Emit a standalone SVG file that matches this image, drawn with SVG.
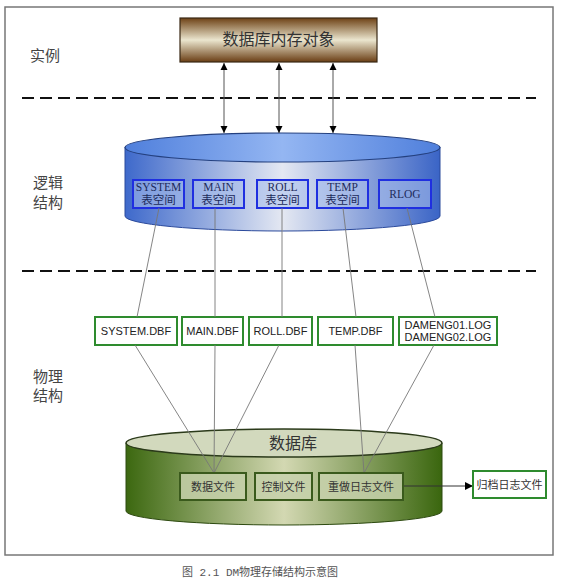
<svg xmlns="http://www.w3.org/2000/svg" width="561" height="584" viewBox="0 0 561 584">
<style>
.cjk{font-family:"Noto Sans CJK SC",sans-serif;fill:#333}
.lbl{font-family:"Noto Sans CJK SC",sans-serif;font-size:15px;fill:#444}
.ts{font-family:"Liberation Serif","Noto Sans CJK SC",serif;font-size:11.5px;fill:#1d2b5c;text-anchor:middle}
.tsb{fill:#a9c0ec;fill-opacity:0.55;stroke:#1f2fe0;stroke-width:2}
.fb{fill:#fff;stroke:#2e8b2e;stroke-width:2}
.ft{font-family:"Liberation Sans",sans-serif;font-size:11px;fill:#222;text-anchor:middle}
.gb{fill:#c7d1ab;fill-opacity:0.85;stroke:#3a5a1c;stroke-width:2}
.gt{font-family:"Noto Sans CJK SC",sans-serif;font-size:11px;fill:#333;text-anchor:middle}
.dash{stroke:#111;stroke-width:2;stroke-dasharray:12 6;fill:none}
.thin{stroke:#777;stroke-width:0.9;fill:none}
.arr{stroke:#555;stroke-width:1;fill:none}
</style>
<defs>
<linearGradient id="brown" x1="0" y1="0" x2="0" y2="1">
<stop offset="0" stop-color="#6e4216"/>
<stop offset="0.5" stop-color="#ebe6cf"/>
<stop offset="1" stop-color="#6a3e14"/>
</linearGradient>
<linearGradient id="blueBody" x1="0" y1="0" x2="1" y2="0">
<stop offset="0" stop-color="#3e69cb"/>
<stop offset="0.5" stop-color="#e4e8f2"/>
<stop offset="1" stop-color="#3a64c6"/>
</linearGradient>
<linearGradient id="blueTop" x1="0" y1="0" x2="1" y2="0">
<stop offset="0" stop-color="#4f7fdc"/>
<stop offset="0.5" stop-color="#94b6f2"/>
<stop offset="1" stop-color="#4f7fdc"/>
</linearGradient>
<linearGradient id="greenBody" x1="0" y1="0" x2="1" y2="0">
<stop offset="0" stop-color="#3c6810"/>
<stop offset="0.5" stop-color="#d3d8b2"/>
<stop offset="1" stop-color="#3a660e"/>
</linearGradient>
<marker id="ah" viewBox="0 0 10 10" refX="10" refY="5" markerWidth="7" markerHeight="9" orient="auto-start-reverse" markerUnits="userSpaceOnUse">
<path d="M0,0 L10,5 L0,10 Z" fill="#000"/>
</marker>
<marker id="ah2" viewBox="0 0 10 10" refX="10" refY="5" markerWidth="11" markerHeight="8" orient="auto" markerUnits="userSpaceOnUse">
<path d="M0,0 L10,5 L0,10 Z" fill="#000"/>
</marker>
</defs>

<rect x="5" y="7" width="548" height="548" fill="#fff" stroke="#777" stroke-width="1.5"/>

<g id="labels">
<text class="lbl" x="30" y="61">实例</text>
<text class="lbl" x="33" y="188">逻辑</text>
<text class="lbl" x="33" y="208">结构</text>
<text class="lbl" x="33" y="382">物理</text>
<text class="lbl" x="33" y="401">结构</text>
</g>

<g id="separators">
<line class="dash" x1="22" y1="98" x2="536" y2="98"/>
<line class="dash" x1="22" y1="271" x2="536" y2="271"/>
</g>

<g id="memory">
<rect x="180" y="18" width="197" height="44" fill="url(#brown)" stroke="#3a2815" stroke-width="1.2"/>
<text class="cjk" x="278.5" y="45" font-size="16" text-anchor="middle">数据库内存对象</text>
</g>

<g id="logical">
<path d="M125,147 L125,216 A157.5,15 0 0 0 440,216 L440,147 Z" fill="url(#blueBody)" stroke="#2b4a9c" stroke-width="1"/>
<ellipse cx="282.5" cy="147.5" rx="157.5" ry="14.5" fill="url(#blueTop)" stroke="#24407f" stroke-width="1.2"/>
</g>

<g id="ts-system"><rect class="tsb" x="133" y="180" width="51" height="28"/><text class="ts" x="158.5" y="191">SYSTEM</text><text class="ts" x="158.5" y="204">表空间</text></g>
<g id="ts-main"><rect class="tsb" x="193" y="180" width="51" height="28"/><text class="ts" x="218.5" y="191">MAIN</text><text class="ts" x="218.5" y="204">表空间</text></g>
<g id="ts-roll"><rect class="tsb" x="257" y="180" width="51" height="28"/><text class="ts" x="282.5" y="191">ROLL</text><text class="ts" x="282.5" y="204">表空间</text></g>
<g id="ts-temp"><rect class="tsb" x="317" y="180" width="51" height="28"/><text class="ts" x="342.5" y="191">TEMP</text><text class="ts" x="342.5" y="204">表空间</text></g>
<g id="ts-rlog"><rect class="tsb" x="379" y="180" width="52" height="28"/><text class="ts" x="405" y="198">RLOG</text></g>

<g id="f-system"><rect class="fb" x="95" y="317" width="82" height="28"/><text class="ft" x="136" y="335">SYSTEM.DBF</text></g>
<g id="f-main"><rect class="fb" x="182" y="317" width="61" height="28"/><text class="ft" x="212.5" y="335">MAIN.DBF</text></g>
<g id="f-roll"><rect class="fb" x="249" y="317" width="63" height="28"/><text class="ft" x="280.5" y="335">ROLL.DBF</text></g>
<g id="f-temp"><rect class="fb" x="318" y="317" width="75" height="28"/><text class="ft" x="355.5" y="335">TEMP.DBF</text></g>
<g id="f-log"><rect class="fb" x="399" y="317" width="98" height="28"/><text class="ft" x="448" y="328.5">DAMENG01.LOG</text><text class="ft" x="448" y="341">DAMENG02.LOG</text></g>

<g id="physical-db">
<path d="M126,443 L126,511 A158,14 0 0 0 442,511 L442,443 Z" fill="url(#greenBody)" stroke="#2d4a10" stroke-width="1"/>
<ellipse cx="284" cy="443" rx="158" ry="14" fill="#d2d9bd" stroke="#2b3a1a" stroke-width="1.5"/>
<text class="cjk" x="293" y="449" font-size="16" text-anchor="middle">数据库</text>
</g>

<g id="connectors">
<line class="arr" x1="224" y1="63" x2="224" y2="133" marker-start="url(#ah)" marker-end="url(#ah)"/>
<line class="arr" x1="279" y1="63" x2="279" y2="133" marker-start="url(#ah)" marker-end="url(#ah)"/>
<line class="arr" x1="333" y1="63" x2="333" y2="133" marker-start="url(#ah)" marker-end="url(#ah)"/>
<line class="thin" x1="159" y1="208" x2="137" y2="317"/>
<line class="thin" x1="215" y1="208" x2="215" y2="317"/>
<line class="thin" x1="282" y1="208" x2="282" y2="317"/>
<line class="thin" x1="343" y1="208" x2="356" y2="317"/>
<line class="thin" x1="407" y1="208" x2="435" y2="317"/>
<line class="thin" x1="135" y1="345" x2="214" y2="473"/>
<line class="thin" x1="215" y1="345" x2="214" y2="473"/>
<line class="thin" x1="279" y1="345" x2="214" y2="473"/>
<line class="thin" x1="355" y1="345" x2="364" y2="473"/>
<line class="thin" x1="434" y1="345" x2="364" y2="473"/>
<line stroke="#333" stroke-width="1" x1="403" y1="486" x2="473" y2="486" marker-end="url(#ah2)"/>
</g>

<g id="g-data"><rect class="gb" x="180" y="473" width="66" height="27"/><text class="gt" x="213" y="490.5">数据文件</text></g>
<g id="g-ctrl"><rect class="gb" x="255" y="473" width="57" height="27"/><text class="gt" x="283.5" y="490.5">控制文件</text></g>
<g id="g-redo"><rect class="gb" x="319" y="473" width="84" height="27"/><text class="gt" x="361" y="490.5">重做日志文件</text></g>
<g id="archive"><rect class="fb" x="473" y="471" width="73" height="27"/><text class="gt" x="509.5" y="488.5">归档日志文件</text></g>

<text x="260" y="576" font-family="Liberation Mono,Noto Sans CJK SC,monospace" font-size="11" fill="#555" text-anchor="middle">图 2.1 DM物理存储结构示意图</text>
</svg>
